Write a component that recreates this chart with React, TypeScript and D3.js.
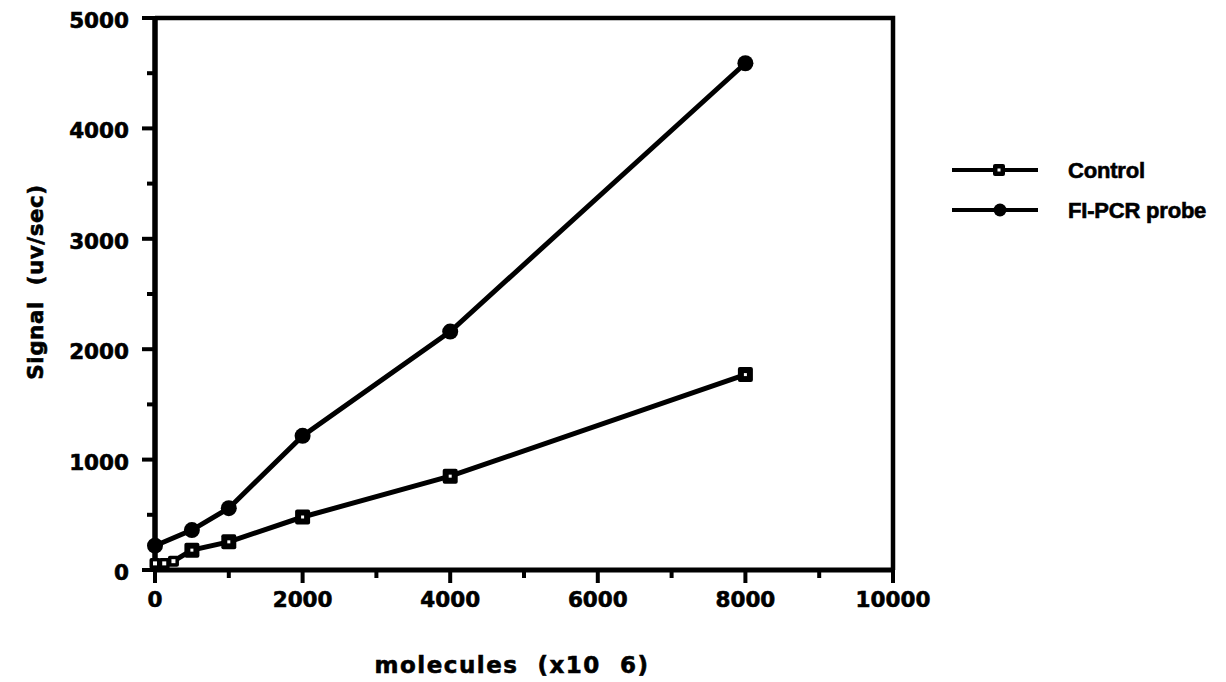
import React, { useEffect, useRef } from 'react';
import * as d3 from 'd3';

// Values
const controlX = [0, 125, 250, 500, 1000, 2000, 4000, 8000];
const controlY = [60, 60, 80, 180, 255, 480, 850, 1770];
const probeX = [0, 500, 1000, 2000, 4000, 8000];
const probeY = [220, 362, 560, 1215, 2160, 4590];
const xTicks = [0, 2000, 4000, 6000, 8000, 10000];
const xMinor = [1000, 3000, 5000, 7000, 9000];
const yTicks = [0, 1000, 2000, 3000, 4000, 5000];
const yMinor = [500, 1500, 2500, 3500, 4500];
const legendNames = ['Control', 'FI-PCR probe'];

const HEAVY = '"DejaVu Sans", Verdana, sans-serif';
const LEG = '"Liberation Sans", Arial, sans-serif';

export default function App() {
  const ref = useRef<SVGSVGElement>(null);

  useEffect(() => {
    if (!ref.current) return;
    const svg = d3.select(ref.current);
    svg.selectAll('*').remove();

    const x = d3.scaleLinear().domain([0, 10000]).range([155, 893]);
    const y = d3.scaleLinear().domain([0, 5000]).range([570, 18]);

    const g = svg.append('g');

    // heavy scanned-looking text
    const heavy = (t: any, size: number, family = HEAVY) =>
      t.attr('font-family', family).attr('font-weight', 'bold').attr('font-size', size)
        .attr('stroke', '#000').attr('stroke-width', 0.6).attr('fill', '#000');

    // box (top and right lines)
    g.append('path')
      .attr('d', `M${x(0)},${y(5000)}H${x(10000)}V${y(0)}`)
      .attr('fill', 'none')
      .attr('stroke', '#000')
      .attr('stroke-width', 4.5);

    // y axis
    g.append('line')
      .attr('x1', x(0)).attr('x2', x(0))
      .attr('y1', y(0)).attr('y2', y(5000))
      .attr('stroke', '#000').attr('stroke-width', 5.5);
    g.selectAll('line.ymaj').data(yTicks).enter().append('line')
      .attr('x1', x(0) - 13).attr('x2', x(0))
      .attr('y1', d => y(d)).attr('y2', d => y(d))
      .attr('stroke', '#000').attr('stroke-width', 4);
    g.selectAll('line.ymin').data(yMinor).enter().append('line')
      .attr('x1', x(0) - 8).attr('x2', x(0))
      .attr('y1', d => y(d)).attr('y2', d => y(d))
      .attr('stroke', '#000').attr('stroke-width', 4);
    heavy(g.selectAll('text.ylab').data(yTicks).enter().append('text'), 21.5)
      .attr('x', 129).attr('y', (d: number) => y(d) + 10)
      .attr('text-anchor', 'end')
      .text((d: number) => String(d));

    // x axis
    g.append('line')
      .attr('x1', x(0)).attr('x2', x(10000))
      .attr('y1', y(0)).attr('y2', y(0))
      .attr('stroke', '#000').attr('stroke-width', 5);
    g.selectAll('line.xmaj').data(xTicks).enter().append('line')
      .attr('x1', d => x(d)).attr('x2', d => x(d))
      .attr('y1', y(0)).attr('y2', y(0) + 13)
      .attr('stroke', '#000').attr('stroke-width', 4);
    g.selectAll('line.xmin').data(xMinor).enter().append('line')
      .attr('x1', d => x(d)).attr('x2', d => x(d))
      .attr('y1', y(0)).attr('y2', y(0) + 8)
      .attr('stroke', '#000').attr('stroke-width', 4);
    heavy(g.selectAll('text.xlab').data(xTicks).enter().append('text'), 21.5)
      .attr('x', (d: number) => x(d)).attr('y', 607)
      .attr('text-anchor', 'middle')
      .text((d: number) => String(d));

    // axis titles
    heavy(svg.append('text'), 23)
      .attr('x', 512).attr('y', 673)
      .attr('text-anchor', 'middle')
      .attr('letter-spacing', 1.5)
      .attr('xml:space', 'preserve')
      .text('molecules  (x10  6)');
    heavy(svg.append('text'), 21.5)
      .attr('transform', 'translate(43,282) rotate(-90)')
      .attr('text-anchor', 'middle')
      .attr('letter-spacing', 0.5)
      .attr('xml:space', 'preserve')
      .text('Signal  (uv/sec)');

    const line = d3.line<[number, number]>().x(d => x(d[0])).y(d => y(d[1]));
    const control = controlX.map((v, i) => [v, controlY[i]] as [number, number]);
    const probe = probeX.map((v, i) => [v, probeY[i]] as [number, number]);

    g.append('path').datum(control).attr('d', line)
      .attr('fill', 'none').attr('stroke', '#000').attr('stroke-width', 5);
    g.append('path').datum(probe).attr('d', line)
      .attr('fill', 'none').attr('stroke', '#000').attr('stroke-width', 5);

    const square = (sel: any, cx: number, cy: number, s: number, hole: number) => {
      sel.append('rect')
        .attr('x', cx - s / 2).attr('y', cy - s / 2)
        .attr('width', s).attr('height', s).attr('rx', 2)
        .attr('fill', '#000');
      sel.append('rect')
        .attr('x', cx - hole / 2).attr('y', cy - hole / 2)
        .attr('width', hole).attr('height', hole)
        .attr('fill', '#fff');
    };

    control.forEach((d, i) => square(g, x(d[0]), y(d[1]), i < 3 ? 11 : 15, i < 3 ? 4 : 3));
    g.selectAll('circle.probe').data(probe).enter().append('circle')
      .attr('cx', d => x(d[0])).attr('cy', d => y(d[1]))
      .attr('r', 8).attr('fill', '#000');

    // legend
    const lg = svg.append('g');
    legendNames.forEach((name, i) => {
      const ly = 170 + i * 40;
      lg.append('line')
        .attr('x1', 952).attr('x2', 1038).attr('y1', ly).attr('y2', ly)
        .attr('stroke', '#000').attr('stroke-width', 4);
      if (i === 0) square(lg, 999, ly, 12, 3);
      else lg.append('circle').attr('cx', 1000).attr('cy', ly).attr('r', 6.5).attr('fill', '#000');
      heavy(lg.append('text'), 22, LEG)
        .attr('x', 1068).attr('y', ly + 8)
        .attr('letter-spacing', -0.2)
        .text(name);
    });
  }, []);

  return (
    <svg
      ref={ref}
      width={1226}
      height={682}
      style={{ position: 'absolute', left: 0, top: 0, background: '#fff' }}
    />
  );
}
